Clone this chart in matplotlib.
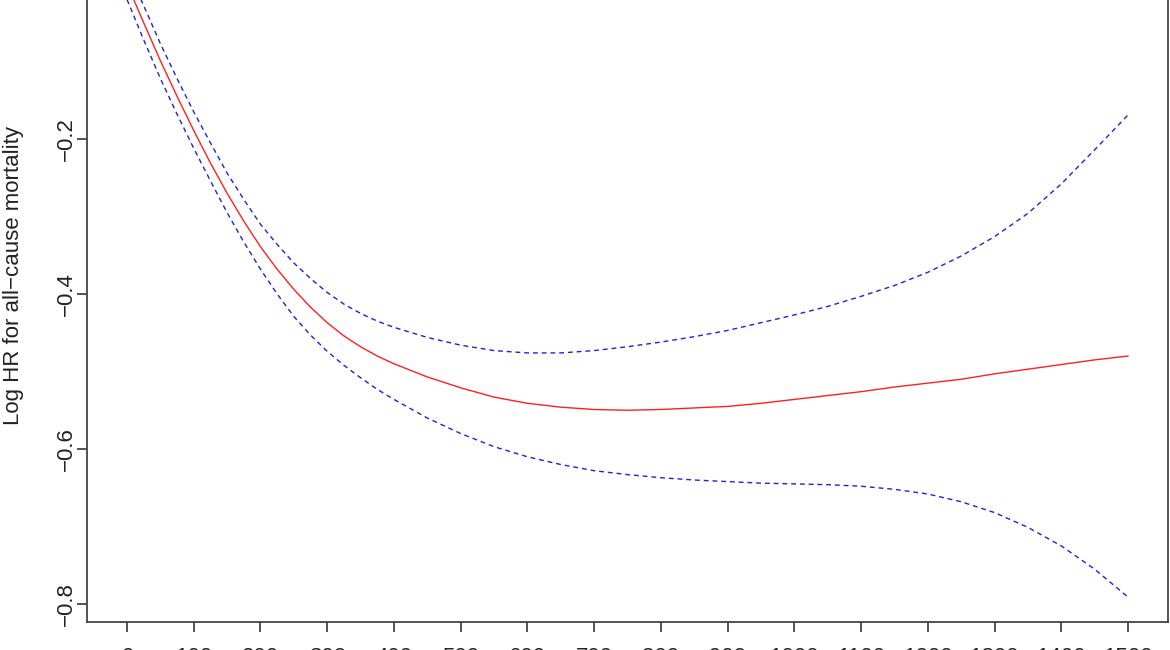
import matplotlib.pyplot as plt

plt.rcParams['font.family'] = ['Liberation Sans', 'DejaVu Sans']

# values
dose = [0, 25, 50, 75, 100, 125, 150, 175, 200, 225, 250, 275, 300, 325, 350, 375, 400,
        450, 500, 550, 600, 650, 700, 750, 800, 850, 900, 950, 1000, 1050, 1100, 1150,
        1200, 1250, 1300, 1350, 1400, 1450, 1500]
log_hr = [0.0, -0.050, -0.099, -0.145, -0.189, -0.231, -0.270, -0.306, -0.339, -0.368,
          -0.394, -0.417, -0.437, -0.454, -0.468, -0.480, -0.490,
          -0.507, -0.521, -0.533, -0.541, -0.546, -0.549, -0.550, -0.549, -0.547, -0.545,
          -0.541, -0.536, -0.531, -0.526, -0.520, -0.515, -0.510, -0.503, -0.497, -0.491,
          -0.485, -0.480]
upper = [0.02, -0.028, -0.077, -0.122, -0.165, -0.205, -0.244, -0.278, -0.310, -0.336,
         -0.360, -0.380, -0.398, -0.413, -0.425, -0.435, -0.443,
         -0.456, -0.466, -0.473, -0.476, -0.476, -0.473, -0.468, -0.462, -0.455, -0.447,
         -0.437, -0.427, -0.416, -0.403, -0.389, -0.372, -0.351, -0.326, -0.296, -0.258,
         -0.214, -0.169]
lower = [-0.02, -0.072, -0.122, -0.168, -0.212, -0.254, -0.295, -0.333, -0.368, -0.400,
         -0.429, -0.453, -0.474, -0.492, -0.508, -0.523, -0.536,
         -0.560, -0.580, -0.597, -0.610, -0.620, -0.628, -0.633, -0.637, -0.640, -0.642,
         -0.644, -0.645, -0.646, -0.648, -0.652, -0.658, -0.668, -0.682, -0.701, -0.725,
         -0.755, -0.791]

x_ticks = list(range(0, 1501, 100))
y_ticks = [-0.8, -0.6, -0.4, -0.2, 0.0]
y_labels = ['\u22120.8', '\u22120.6', '\u22120.4', '\u22120.2', '0.0']

fig = plt.figure(figsize=(11.7, 6.5), dpi=100, facecolor='white')
# the reference is a cropped R plot: top and bottom of the axes run off the picture
ax = fig.add_axes([87/1170, 28/650, 1081/1170, 694/650])

ax.plot(dose, log_hr, color='#ff2020', lw=1.0)
ax.plot(dose, upper, color='#2020e0', lw=1.0, linestyle=(0, (3.5, 2.8)))
ax.plot(dose, lower, color='#2020e0', lw=1.0, linestyle=(0, (3.5, 2.8)))

ax.set_xlim(-60, 1560)
ax.set_ylim(-0.8232, 0.0723)

ax.set_xticks(x_ticks)
ax.set_xticklabels([str(t) for t in x_ticks], fontsize=16, color='#222222')
ax.set_yticks(y_ticks)
ax.set_yticklabels(y_labels, fontsize=16, color='#222222', rotation=90, va='center')

for s in ax.spines.values():
    s.set_color('#444444')
    s.set_linewidth(1.3)
ax.tick_params(axis='both', direction='out', length=7.2, width=1.3, color='#444444')
ax.tick_params(axis='x', pad=10.5)
ax.tick_params(axis='y', pad=0)

fig.text(14/1170, (650-275)/650, 'Log HR for all\u2212cause mortality', rotation=90,
         ha='center', va='center', fontsize=16, color='#222222')

fig.savefig('out.png', dpi=100)
